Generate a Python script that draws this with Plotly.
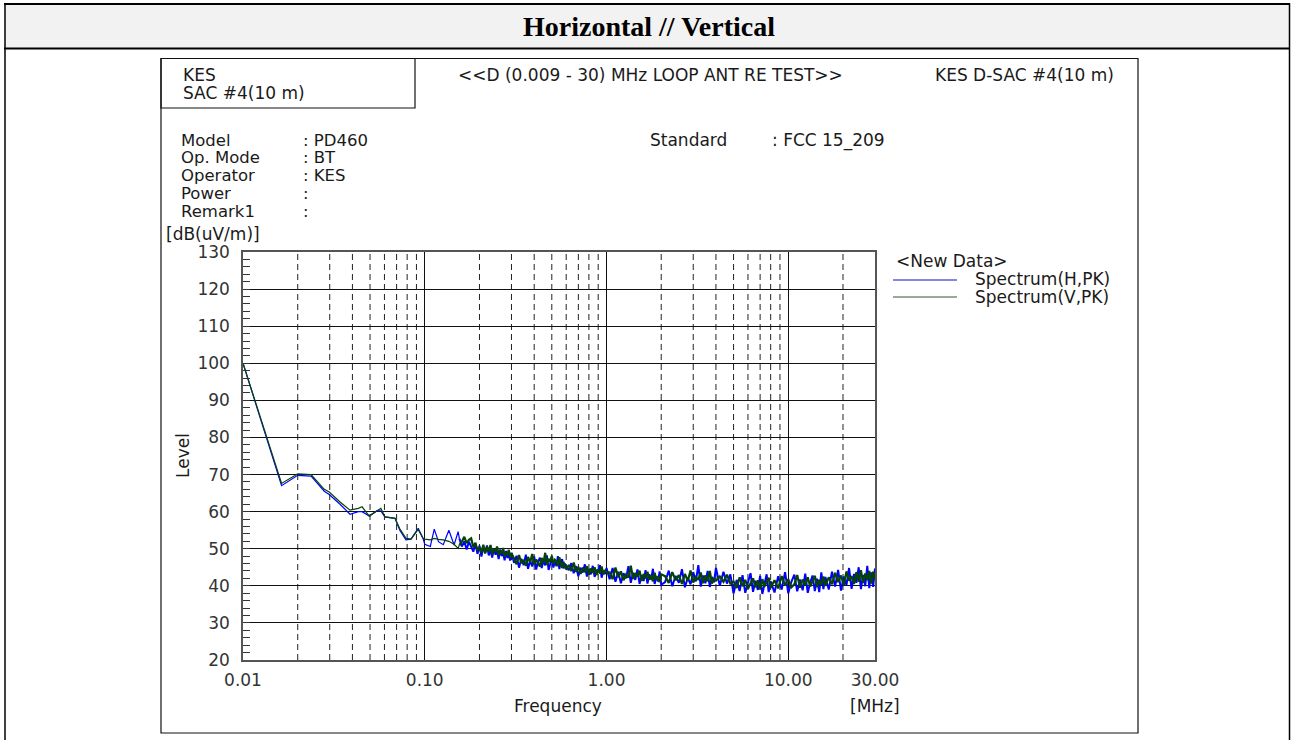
import math
import plotly.graph_objects as go

W, H = 1292, 740

# ---------------- data ----------------
FREQ_LOW = [0.0100, 0.0163, 0.0200, 0.0237, 0.0280, 0.0298, 0.0342, 0.0388, 0.0431, 0.0452,
            0.0495, 0.0544, 0.0573, 0.0604, 0.0686, 0.0729, 0.0788, 0.0840, 0.0920, 0.0978,
            0.1000, 0.1073, 0.1128, 0.1190, 0.1264, 0.1357, 0.1450, 0.1526]
H_LOW = [100.0, 67.0, 69.8, 69.6, 65.5, 64.6, 62.0, 59.3, 60.0, 60.0,
         58.8, 60.2, 60.2, 58.6, 58.2, 55.0, 52.4, 52.6, 55.5, 52.8,
         51.2, 50.6, 55.3, 51.9, 51.1, 55.0, 51.0, 54.6]
V_LOW = [100.0, 67.6, 70.2, 70.0, 66.0, 65.3, 62.6, 60.4, 60.9, 61.3,
         58.8, 60.2, 60.9, 58.6, 58.2, 55.4, 52.8, 52.6, 55.2, 52.8,
         52.6, 52.4, 52.8, 52.5, 52.4, 52.0, 51.2, 50.1]

FREQ_DENSE = [
    0.155, 0.16, 0.165, 0.17, 0.175, 0.18, 0.185, 0.19, 0.195, 0.20,
    0.205, 0.21, 0.215, 0.22, 0.225, 0.23, 0.235, 0.24, 0.245, 0.25,
    0.255, 0.26, 0.265, 0.27, 0.275, 0.28, 0.285, 0.29, 0.295, 0.30,
    0.31, 0.32, 0.33, 0.34, 0.35, 0.36, 0.37, 0.38, 0.39, 0.40,
    0.41, 0.42, 0.43, 0.44, 0.45, 0.46, 0.47, 0.48, 0.49, 0.50,
    0.51, 0.52, 0.53, 0.54, 0.55, 0.56, 0.57, 0.58, 0.59, 0.60,
    0.62, 0.64, 0.66, 0.68, 0.70, 0.72, 0.74, 0.76, 0.78, 0.80,
    0.82, 0.84, 0.86, 0.88, 0.90, 0.92, 0.94, 0.96, 0.98, 1.00,
    1.04, 1.08, 1.12, 1.16, 1.20, 1.24, 1.28, 1.32, 1.36, 1.40,
    1.44, 1.48, 1.52, 1.56, 1.60, 1.64, 1.68, 1.72, 1.76, 1.80,
    1.84, 1.88, 1.92, 1.96, 2.00,
    2.1, 2.2, 2.3, 2.4, 2.5, 2.6, 2.7, 2.8, 2.9, 3.0,
    3.1, 3.2, 3.3, 3.4, 3.5, 3.6, 3.7, 3.8, 3.9, 4.0,
    4.2, 4.4, 4.6, 4.8, 5.0, 5.2, 5.4, 5.6, 5.8, 6.0,
    6.2, 6.4, 6.6, 6.8, 7.0, 7.2, 7.4, 7.6, 7.8, 8.0,
    8.4, 8.8, 9.2, 9.6, 10.0, 10.4, 10.8, 11.2, 11.6, 12.0,
    12.4, 12.8, 13.2, 13.6, 14.0, 14.4, 14.8, 15.2, 15.6, 16.0,
    16.7, 17.4, 18.1, 18.8, 19.5, 20.2, 20.9, 21.6, 22.3, 23.0,
    23.7, 24.4, 25.1, 25.8, 26.5, 27.2, 27.9, 28.6, 29.3, 30.0]

H_DENSE = [
    52.8, 50.6, 52.0, 49.8, 51.9, 50.5, 49.2, 51.4, 48.6, 50.8,
    47.9, 50.3, 49.0, 50.9, 48.2, 49.6, 47.6, 50.1, 48.4, 49.3,
    47.2, 49.8, 48.0, 48.9, 46.9, 49.4, 47.5, 48.6, 46.8, 48.9,
    46.2, 48.1, 44.9, 47.3, 45.6, 48.4, 44.6, 46.8, 45.2, 47.9,
    44.4, 46.5, 47.6, 44.8, 46.9, 45.5, 48.2, 44.3, 46.1, 47.4,
    44.9, 46.7, 45.3, 48.0, 44.5, 46.4, 47.2, 44.7, 46.0, 45.1,
    44.2, 46.1, 43.4, 45.3, 42.6, 44.9, 43.6, 45.8, 42.5, 44.5,
    43.1, 45.4, 42.4, 44.3, 43.8, 45.6, 42.2, 44.0, 43.2, 44.8,
    41.8, 44.8, 41.1, 43.8, 40.7, 43.4, 42.0, 45.3, 40.8, 43.5,
    41.6, 44.4, 40.5, 42.9, 41.3, 44.2, 40.6, 43.1, 41.7, 44.6,
    40.5, 42.6, 41.2, 43.9, 40.3,
    41.0, 44.1, 39.9, 42.7, 40.8, 44.5, 39.6, 42.2, 40.4, 43.7,
    41.2, 45.6, 39.8, 42.8, 40.7, 44.0, 39.7, 42.4, 40.9, 44.8,
    40.0, 43.8, 40.6, 43.1, 37.9, 41.6, 38.6, 42.9, 38.1, 40.9,
    43.4, 38.4, 41.4, 38.9, 42.7, 37.8, 40.6, 43.1, 38.3, 41.2,
    38.2, 42.6, 39.0, 43.7, 38.0, 41.1, 43.0, 38.5, 41.7, 38.8,
    43.3, 38.1, 40.8, 42.8, 38.6, 41.9, 38.3, 43.6, 39.1, 42.4,
    39.0, 43.8, 39.8, 44.3, 38.7, 42.5, 40.2, 44.8, 39.2, 43.2,
    40.8, 45.0, 39.1, 42.9, 39.9, 45.4, 39.4, 43.6, 39.7, 44.7]

V_DENSE = [
    51.0, 51.9, 53.2, 51.5, 52.4, 52.8, 50.4, 51.6, 49.6, 50.4,
    49.0, 51.1, 48.7, 50.5, 49.3, 51.0, 48.5, 49.9, 49.1, 50.6,
    48.3, 49.4, 48.8, 50.2, 47.9, 49.0, 48.4, 49.7, 47.6, 48.8,
    47.4, 45.8, 48.3, 46.1, 47.0, 45.4, 47.8, 46.3, 48.6, 45.7,
    47.1, 46.0, 45.2, 47.5, 46.2, 48.9, 45.6, 47.3, 46.4, 48.1,
    45.9, 47.0, 46.6, 45.3, 47.7, 46.1, 44.8, 46.5, 45.0, 44.6,
    45.6, 44.0, 46.3, 43.8, 45.1, 43.2, 44.6, 43.9, 45.3, 43.0,
    44.7, 43.5, 45.0, 42.9, 44.4, 43.3, 45.2, 43.1, 44.2, 43.6,
    43.6, 41.8, 44.9, 42.3, 43.9, 41.5, 43.0, 42.2, 45.4, 41.9,
    43.4, 42.5, 44.1, 41.3, 43.2, 42.0, 43.8, 41.6, 42.8, 41.2,
    43.5, 41.7, 42.4, 41.0, 43.1,
    42.6, 40.8, 43.7, 41.5, 42.9, 40.5, 43.2, 41.3, 44.1, 40.9,
    42.4, 41.6, 43.6, 40.7, 42.8, 41.2, 44.0, 40.6, 42.1, 41.4,
    42.5, 41.1, 43.0, 40.6, 41.2, 39.4, 42.3, 39.9, 41.6, 39.2,
    40.7, 42.0, 39.6, 41.5, 39.1, 41.8, 39.8, 40.9, 42.2, 39.5,
    41.5, 39.3, 42.6, 40.1, 41.8, 39.6, 40.4, 42.9, 39.5, 41.7,
    40.2, 42.3, 39.8, 41.2, 42.7, 39.7, 41.6, 40.3, 42.5, 40.0,
    42.3, 40.4, 43.5, 41.0, 42.8, 40.2, 43.9, 41.4, 42.6, 40.5,
    43.7, 41.1, 44.2, 40.8, 43.3, 41.5, 44.0, 40.6, 43.8, 41.9]

SERIES_NAMES = ["Spectrum(H,PK)", "Spectrum(V,PK)"]
SERIES_COLORS = ["#0000ff", "#064306"]

Y_TICKS = [20, 30, 40, 50, 60, 70, 80, 90, 100, 110, 120, 130]
X_TICK_VALS = [0.01, 0.1, 1, 10, 30]
X_TICK_TEXT = ["0.01", "0.10", "1.00", "10.00", "30.00"]
DASHED_FREQS = [0.02, 0.03, 0.04, 0.05, 0.06, 0.07, 0.08, 0.09,
                0.2, 0.3, 0.4, 0.5, 0.6, 0.7, 0.8, 0.9,
                2, 3, 4, 5, 6, 7, 8, 9, 20]

HEADER_LEFT = ["KES", "SAC #4(10 m)"]
HEADER_CENTER = "<<D (0.009 - 30) MHz LOOP ANT RE TEST>>"
HEADER_RIGHT = "KES D-SAC #4(10 m)"
INFO_KEYS = ["Model", "Op. Mode", "Operator", "Power", "Remark1"]
INFO_VALS = [": PD460", ": BT", ": KES", ":", ":"]

# ---------------- figure ----------------
def px(x):
    return x / W


def py(y):
    return 1 - y / H


FONT = "DejaVu Sans"
TXT = "#1a1a1a"

fig = go.Figure()
# sparse low-frequency part (thin lines)
fig.add_trace(go.Scatter(x=FREQ_LOW + FREQ_DENSE[:1], y=H_LOW + H_DENSE[:1], mode="lines",
                         line=dict(color=SERIES_COLORS[0], width=1.2), name=SERIES_NAMES[0],
                         showlegend=False))
fig.add_trace(go.Scatter(x=FREQ_LOW + FREQ_DENSE[:1], y=V_LOW + V_DENSE[:1], mode="lines",
                         line=dict(color=SERIES_COLORS[1], width=1.2), name=SERIES_NAMES[1],
                         showlegend=False))
# dense sweep part (heavier lines, as the many sweep points fill the band)
fig.add_trace(go.Scatter(x=FREQ_DENSE, y=H_DENSE, mode="lines",
                         line=dict(color=SERIES_COLORS[0], width=2.0), name=SERIES_NAMES[0],
                         showlegend=False))
fig.add_trace(go.Scatter(x=FREQ_DENSE, y=V_DENSE, mode="lines",
                         line=dict(color=SERIES_COLORS[1], width=2.2), name=SERIES_NAMES[1],
                         showlegend=False))

shapes = []
shapes.append(dict(type="rect", xref="paper", yref="paper", x0=px(5), x1=px(1289), y0=py(4), y1=py(48),
                   fillcolor="#f2f2f2", line=dict(width=0), layer="below"))
shapes.append(dict(type="line", xref="paper", yref="paper", x0=px(4), x1=px(1290), y0=py(4), y1=py(4),
                   line=dict(color="#000", width=2)))
shapes.append(dict(type="line", xref="paper", yref="paper", x0=px(4), x1=px(1290), y0=py(48.5), y1=py(48.5),
                   line=dict(color="#000", width=2)))
shapes.append(dict(type="line", xref="paper", yref="paper", x0=px(5), x1=px(5), y0=py(3), y1=py(740),
                   line=dict(color="#000", width=1.5)))
shapes.append(dict(type="line", xref="paper", yref="paper", x0=px(1289.5), x1=px(1289.5), y0=py(3), y1=py(740),
                   line=dict(color="#000", width=1.5)))
shapes.append(dict(type="rect", xref="paper", yref="paper", x0=px(161), x1=px(1138), y0=py(58.5), y1=py(733),
                   line=dict(color="#111", width=1.2)))
shapes.append(dict(type="rect", xref="paper", yref="paper", x0=px(161), x1=px(415), y0=py(58.5), y1=py(108),
                   line=dict(color="#111", width=1.2)))
for f in DASHED_FREQS:
    shapes.append(dict(type="line", xref="x", yref="y", x0=f, x1=f, y0=20, y1=130,
                       line=dict(color="#222", width=1, dash="6px,4px"), layer="below"))
shapes.append(dict(type="line", xref="paper", yref="paper", x0=px(893), x1=px(957), y0=py(280), y1=py(280),
                   line=dict(color="#1010c0", width=1.2)))
shapes.append(dict(type="line", xref="paper", yref="paper", x0=px(893), x1=px(957), y0=py(297), y1=py(297),
                   line=dict(color="#2d5a2d", width=1.2)))

ann = []


def text(s, x, y, xanchor="left", size=17, color=TXT, family=FONT, angle=0, bold=False):
    ann.append(dict(text=("<b>%s</b>" % s) if bold else s, x=px(x), y=py(y), xref="paper", yref="paper",
                    xanchor=xanchor, yanchor="middle", showarrow=False, textangle=angle,
                    font=dict(family=family, size=size, color=color)))


text("Horizontal // Vertical", 649, 27, xanchor="center", size=28, color="#000",
     family="Liberation Serif", bold=True)
text(HEADER_LEFT[0], 181, 75)
text(HEADER_LEFT[1], 181, 93)
text(HEADER_CENTER, 456, 75)
text(HEADER_RIGHT, 933, 75)
for i, (k, v) in enumerate(zip(INFO_KEYS, INFO_VALS)):
    yy = 140 + i * 17.8
    text(k, 179, yy, size=16.5)
    text(v, 301, yy, size=16.5)
text("Standard", 648, 140)
text(": FCC 15_209", 770, 140)
text("[dB(uV/m)]", 164, 234)
text("Level", 183, 456, xanchor="center", angle=-90)
text("Frequency", 558, 706, xanchor="center")
text("[MHz]", 875, 706, xanchor="center")
text("&lt;New Data&gt;", 894, 261)
text(SERIES_NAMES[0], 973, 279)
text(SERIES_NAMES[1], 973, 297)

tickfont = dict(family=FONT, size=17, color="#333")
fig.update_layout(
    template="none",
    width=W, height=H, autosize=False,
    margin=dict(l=0, r=0, t=0, b=0, pad=0, autoexpand=False),
    paper_bgcolor="white", plot_bgcolor="white",
    showlegend=False, shapes=shapes, annotations=ann,
    xaxis=dict(type="log", range=[math.log10(0.01), math.log10(30)], automargin=False,
               domain=[px(243), px(875)], tickvals=X_TICK_VALS, ticktext=X_TICK_TEXT,
               showgrid=True, gridcolor="#111", gridwidth=1, zeroline=False,
               showline=True, mirror=True, linecolor="#555", linewidth=1.5,
               ticks="", tickfont=tickfont, ticklabelstandoff=4),
    yaxis=dict(range=[20, 130], domain=[py(660), py(252)], tickvals=Y_TICKS, automargin=False,
               showgrid=True, gridcolor="#111", gridwidth=1, zeroline=False,
               showline=True, mirror=True, linecolor="#555", linewidth=1.5,
               ticks="inside", ticklen=7, tickcolor="#333", tickwidth=1,
               minor=dict(ticks="inside", ticklen=7, dtick=2, tickcolor="#333", tickwidth=1, showgrid=False),
               tickfont=tickfont, ticklabelstandoff=8),
)

fig.write_html("out.html", config={"displayModeBar": False},
               post_script="document.body.style.margin='0';document.body.style.overflow='hidden';"
                           "document.documentElement.style.overflow='hidden';")
